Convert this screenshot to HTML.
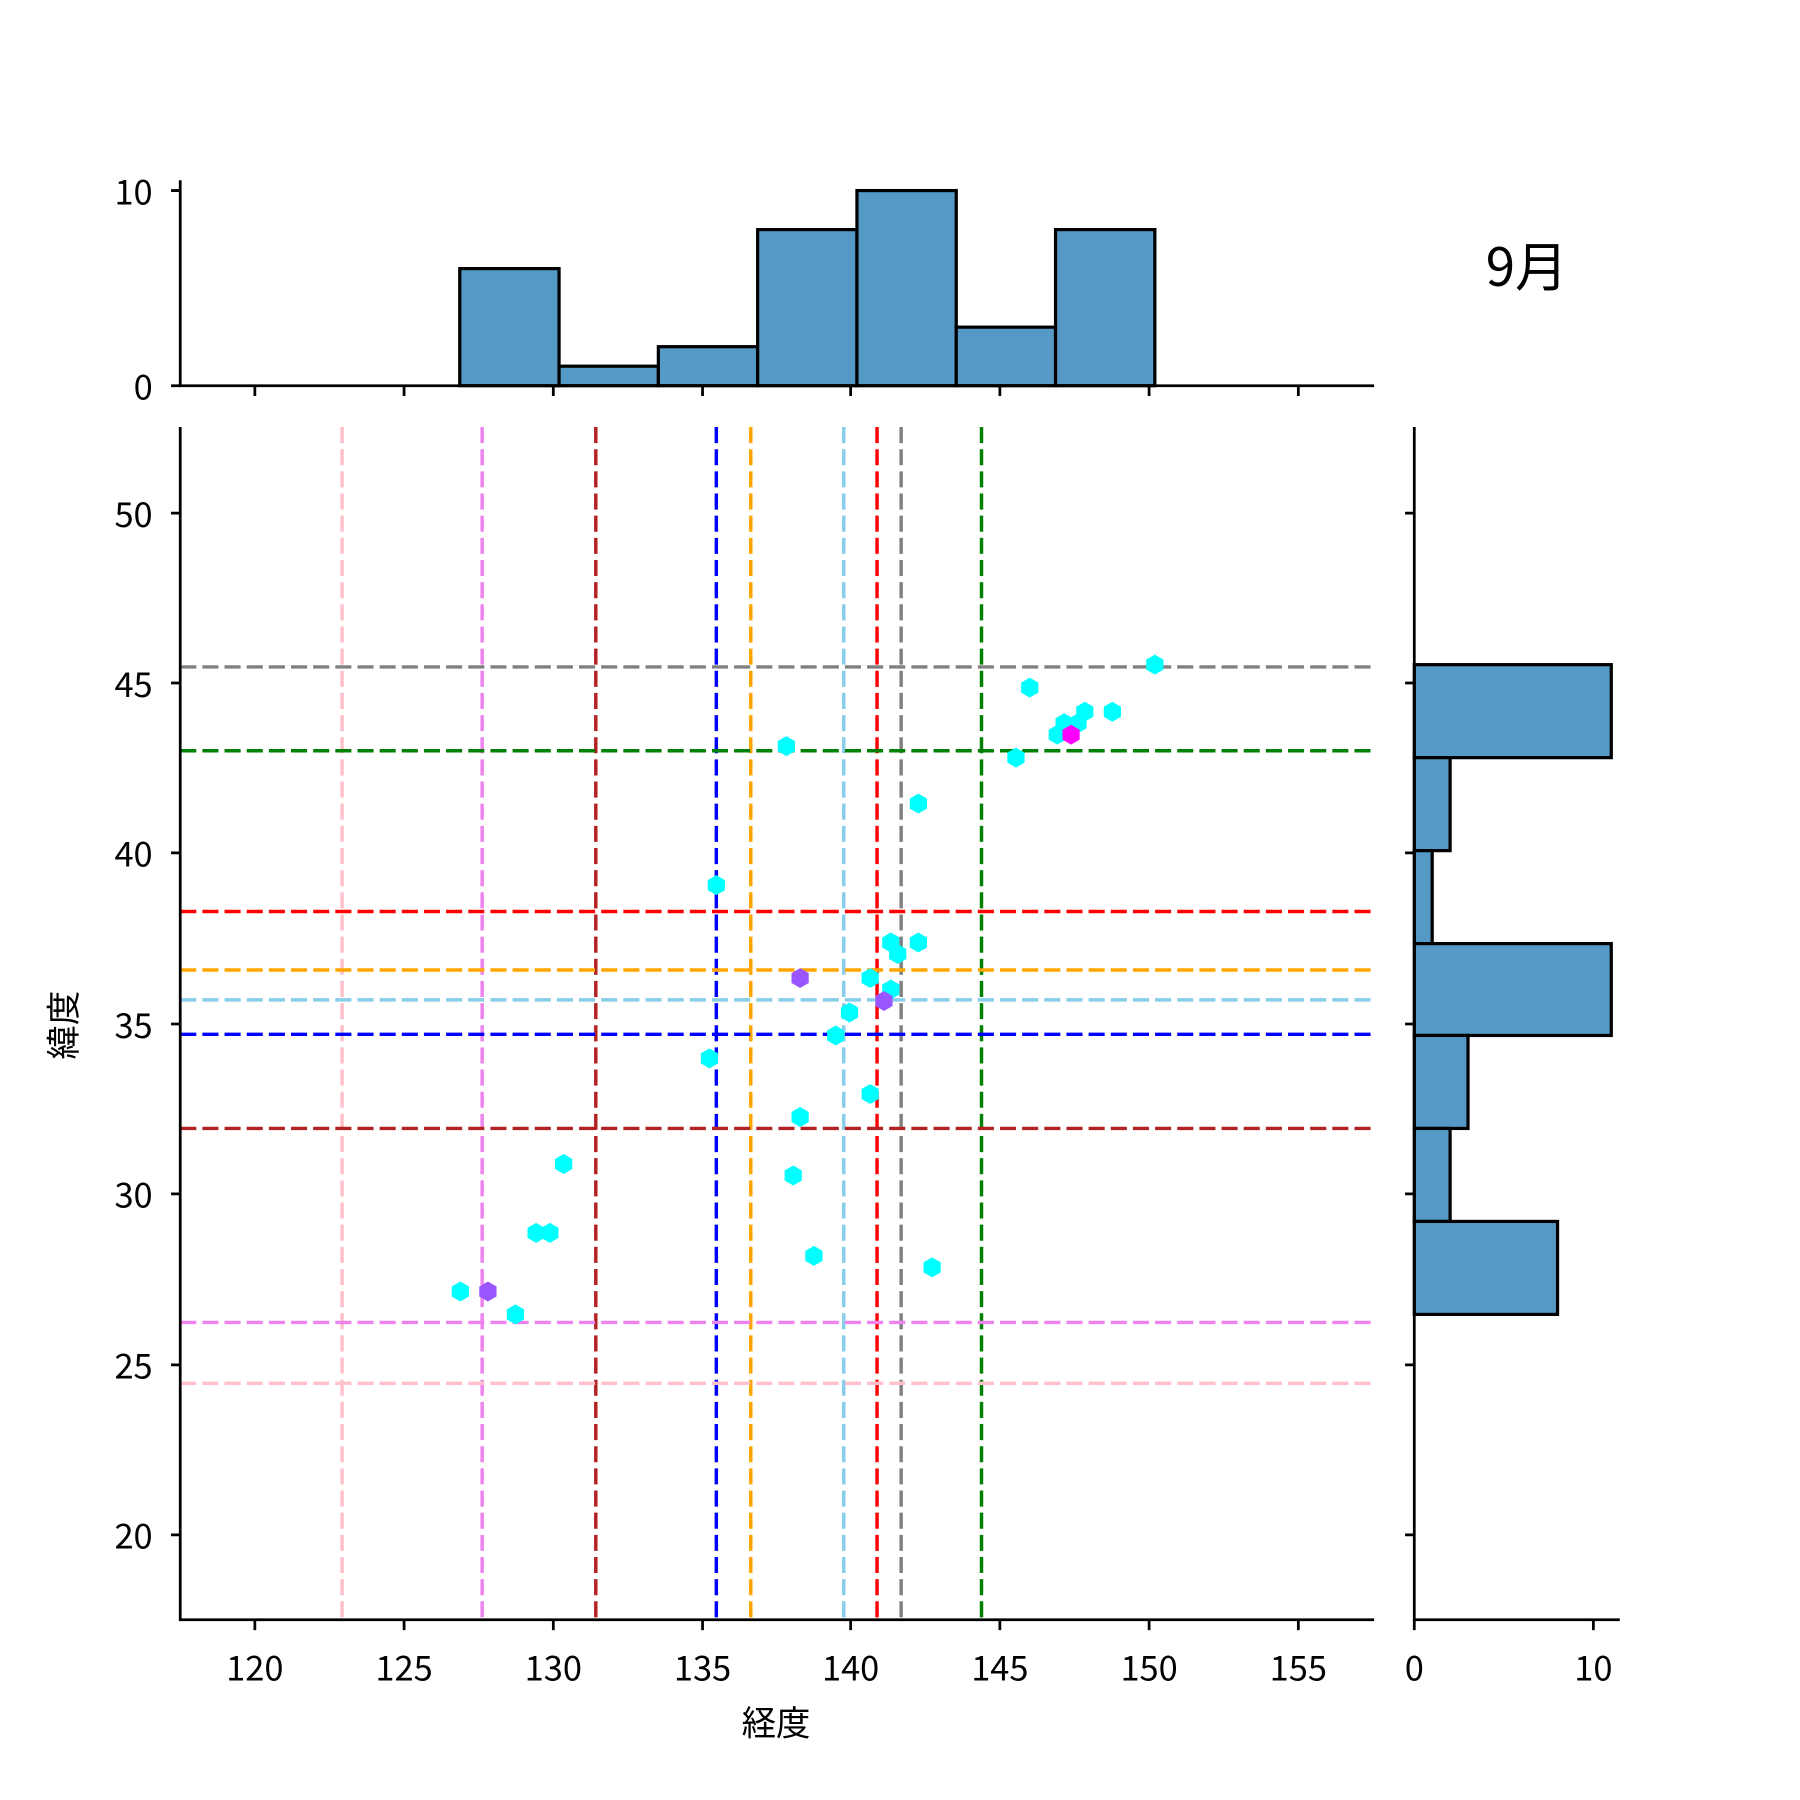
<!DOCTYPE html>
<html><head><meta charset="utf-8"><style>html,body{margin:0;padding:0;background:#fff}svg{display:block}text{font-family:"Noto Sans CJK JP","Liberation Sans",sans-serif;fill:#000}</style></head><body>
<svg width="1800" height="1800" viewBox="0 0 1568 1568" xmlns="http://www.w3.org/2000/svg">
<defs><polygon id="h" points="0,-8.7 7.5,-4.35 7.5,4.35 0,8.7 -7.5,4.35 -7.5,-4.35"/></defs>
<rect width="1568" height="1568" fill="#fff"/>
<g fill="#5599c6" stroke="#000" stroke-width="2.8">
<rect x="400.5" y="234" width="86.5" height="102"/>
<rect x="487" y="319" width="86.5" height="17"/>
<rect x="573.5" y="302" width="86.5" height="34"/>
<rect x="660" y="200" width="86.5" height="136"/>
<rect x="746.5" y="166" width="86.5" height="170"/>
<rect x="833" y="285" width="86.5" height="51"/>
<rect x="919.5" y="200" width="86.5" height="136"/>
</g>
<g stroke="#000" stroke-width="2.4" fill="none">
<path d="M157,157V336H1197"/>
<path d="M149,336H157M149,166H157"/>
<path d="M222,336v9M352,336v9M482,336v9M612,336v9M741,336v9M871,336v9M1001,336v9M1131,336v9"/>
</g>
<text x="133" y="348" font-size="30" text-anchor="end">0</text>
<text x="133" y="178" font-size="30" text-anchor="end">10</text>
<text x="1330" y="249" font-size="46" text-anchor="middle">9月</text>
<g fill="#5599c6" stroke="#000" stroke-width="2.8">
<rect x="1232" y="579" width="171.6" height="81"/>
<rect x="1232" y="660" width="31.2" height="81"/>
<rect x="1232" y="741" width="15.6" height="81"/>
<rect x="1232" y="822" width="171.6" height="80"/>
<rect x="1232" y="902" width="46.8" height="81"/>
<rect x="1232" y="983" width="31.2" height="81"/>
<rect x="1232" y="1064" width="124.8" height="81"/>
</g>
<g stroke="#000" stroke-width="2.4" fill="none">
<path d="M1232,372V1411H1411"/>
<path d="M1224,447h8M1224,595h8M1224,743h8M1224,892h8M1224,1040h8M1224,1189h8M1224,1337h8"/>
<path d="M1232,1411v9M1388,1411v9"/>
</g>
<text x="1232" y="1464" font-size="30" text-anchor="middle">0</text>
<text x="1388" y="1464" font-size="30" text-anchor="middle">10</text>
<g stroke-width="3" stroke-dasharray="14 5.3" fill="none">
<path d="M298,372V1411" stroke="#ffc0cb"/>
<path d="M420,372V1411" stroke="#ee82ee"/>
<path d="M519,372V1411" stroke="#b22222"/>
<path d="M624,372V1411" stroke="#0000ff"/>
<path d="M654,372V1411" stroke="#ffa500"/>
<path d="M735,372V1411" stroke="#87ceeb"/>
<path d="M764,372V1411" stroke="#ff0000"/>
<path d="M785,372V1411" stroke="#808080"/>
<path d="M855,372V1411" stroke="#008000"/>
<path d="M157,581H1197" stroke="#808080"/>
<path d="M157,654H1197" stroke="#008000"/>
<path d="M157,794H1197" stroke="#ff0000"/>
<path d="M157,845H1197" stroke="#ffa500"/>
<path d="M157,871H1197" stroke="#87ceeb"/>
<path d="M157,901H1197" stroke="#0000ff"/>
<path d="M157,983H1197" stroke="#b22222"/>
<path d="M157,1152H1197" stroke="#ee82ee"/>
<path d="M157,1205H1197" stroke="#ffc0cb"/>
</g>
<g fill="#00ffff">
<use href="#h" x="1006" y="579"/><use href="#h" x="897" y="599"/><use href="#h" x="969" y="620"/><use href="#h" x="945" y="620"/>
<use href="#h" x="927" y="630"/><use href="#h" x="939" y="630"/><use href="#h" x="921" y="640"/>
<use href="#h" x="933" y="640" fill="#ff00ff"/>
<use href="#h" x="685" y="650"/><use href="#h" x="885" y="660"/><use href="#h" x="800" y="700"/><use href="#h" x="624" y="771"/>
<use href="#h" x="776" y="821"/><use href="#h" x="800" y="821"/><use href="#h" x="782" y="831"/>
<use href="#h" x="697" y="852" fill="#9955ff"/>
<use href="#h" x="758" y="852"/><use href="#h" x="776" y="862"/>
<use href="#h" x="770" y="872" fill="#9955ff"/>
<use href="#h" x="740" y="882"/><use href="#h" x="728" y="902"/><use href="#h" x="618" y="922"/><use href="#h" x="758" y="953"/>
<use href="#h" x="697" y="973"/><use href="#h" x="491" y="1014"/><use href="#h" x="691" y="1024"/><use href="#h" x="467" y="1074"/>
<use href="#h" x="479" y="1074"/><use href="#h" x="709" y="1094"/><use href="#h" x="812" y="1104"/><use href="#h" x="401" y="1125"/>
<use href="#h" x="425" y="1125" fill="#9955ff"/>
<use href="#h" x="449" y="1145"/>
</g>
<g stroke="#000" stroke-width="2.4" fill="none">
<path d="M157,372V1411H1197"/>
<path d="M149,447h8M149,595h8M149,743h8M149,892h8M149,1040h8M149,1189h8M149,1337h8"/>
<path d="M222,1411v9M352,1411v9M482,1411v9M612,1411v9M741,1411v9M871,1411v9M1001,1411v9M1131,1411v9"/>
</g>
<g font-size="30" text-anchor="end">
<text x="133" y="459">50</text><text x="133" y="607">45</text><text x="133" y="755">40</text><text x="133" y="904">35</text>
<text x="133" y="1052">30</text><text x="133" y="1201">25</text><text x="133" y="1349">20</text>
</g>
<g font-size="30" text-anchor="middle">
<text x="222" y="1464">120</text><text x="352" y="1464">125</text><text x="482" y="1464">130</text><text x="612" y="1464">135</text>
<text x="741" y="1464">140</text><text x="871" y="1464">145</text><text x="1001" y="1464">150</text><text x="1131" y="1464">155</text>
</g>
<text x="676" y="1512" font-size="30" text-anchor="middle">経度</text>
<text x="0" y="0" font-size="30" text-anchor="middle" transform="translate(66,893) rotate(-90)">緯度</text>
</svg>
</body></html>
